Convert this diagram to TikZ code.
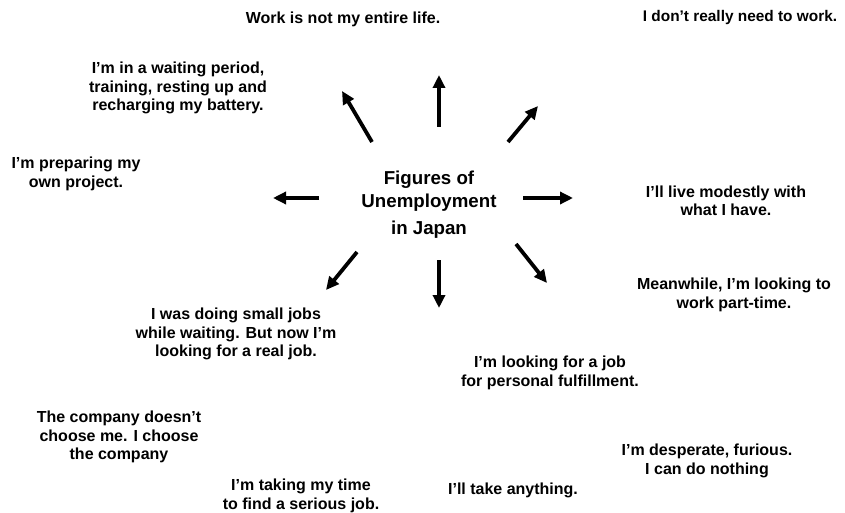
\documentclass[tikz,border=0pt]{standalone}
\usepackage{fontspec}
\setmainfont{Liberation Sans}
\usetikzlibrary{arrows.meta}
\begin{document}
\begin{tikzpicture}[x=1pt,y=-1pt,
  lbl/.style={font=\fontsize{16}{18.5}\selectfont\bfseries, align=center, inner sep=0pt},
  ttl/.style={font=\fontsize{18.7}{23}\selectfont\bfseries, align=center, inner sep=0pt},
  ray/.style={line width=3.8pt, -{Triangle[length=13pt,width=12pt]}}]
\useasboundingbox (0,0) rectangle (845,513);
\fill[white] (0,0) rectangle (845,513);
% title
\node[ttl] (title) at (429,205) {Figures of\\Unemployment\\[4pt]in Japan};
% labels
\node[lbl] (work) at (343,19) {Work is not my entire life.};
\node[lbl, font=\fontsize{15.4}{18.5}\selectfont\bfseries] (need) at (740,18) {I don’t really need to work.};
\node[lbl] (wait) at (178,88) {I’m in a waiting period,\\training, resting up and\\recharging my battery.};
\node[lbl] (proj) at (76,174) {I’m preparing my\\own project.};
\node[lbl] (mod) at (726,201) {I’ll live modestly with\\what I have.};
\node[lbl] (part) at (734,295) {Meanwhile, I’m looking to\\work part-time.};
\node[lbl] (small) at (236,334) {I was doing small jobs\\while waiting. But now I’m\\looking for a real job.};
\node[lbl] (fulf) at (550,373) {I’m looking for a job\\for personal fulfillment.};
\node[lbl] (comp) at (119,437) {The company doesn’t\\choose me. I choose\\the company};
\node[lbl] (desp) at (707,461) {I’m desperate, furious.\\I can do nothing};
\node[lbl] (time) at (301,496) {I’m taking my time\\to find a serious job.};
\node[lbl] (any) at (513,490) {I’ll take anything.};
% arrow ends
\coordinate (uS) at (439,127); \coordinate (uE) at (439,75);
\coordinate (ulS) at (372,142); \coordinate (ulE) at (342,91);
\coordinate (urS) at (508,142); \coordinate (urE) at (538,106);
\coordinate (lS) at (319,198); \coordinate (lE) at (273,198);
\coordinate (rS) at (523,198); \coordinate (rE) at (573,198);
\coordinate (dlS) at (357,252); \coordinate (dlE) at (326,290);
\coordinate (dS) at (439,260); \coordinate (dE) at (439,308);
\coordinate (drS) at (516,244); \coordinate (drE) at (547,283);
\draw[ray] (uS) -- (uE);
\draw[ray] (ulS) -- (ulE);
\draw[ray] (urS) -- (urE);
\draw[ray] (lS) -- (lE);
\draw[ray] (rS) -- (rE);
\draw[ray] (dlS) -- (dlE);
\draw[ray] (dS) -- (dE);
\draw[ray] (drS) -- (drE);
\end{tikzpicture}
\end{document}
